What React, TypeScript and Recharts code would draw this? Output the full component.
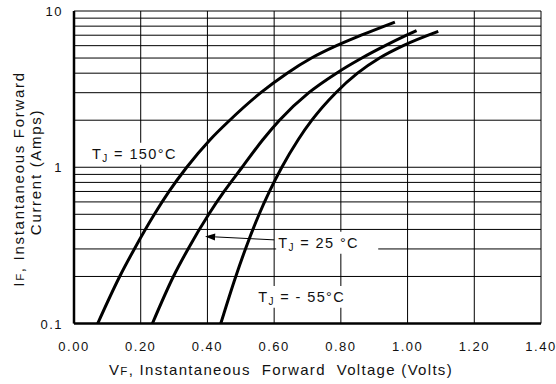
import { LineChart, Line, XAxis, YAxis, CartesianGrid, ReferenceArea, ReferenceLine } from "recharts";

// Forward voltage (V) vs instantaneous forward current (A)
const vf150 = [0.071, 0.137, 0.181, 0.241, 0.285, 0.338, 0.408, 0.467, 0.56, 0.639, 0.712, 0.787, 0.861, 0.962];
const if150 = [0.1, 0.2, 0.3, 0.5, 0.7, 1, 1.5, 2, 3, 4, 5, 6, 7, 8.5];

const vf25 = [0.235, 0.298, 0.342, 0.404, 0.45, 0.504, 0.566, 0.616, 0.704, 0.787, 0.863, 0.933, 0.997, 1.027];
const if25 = [0.1, 0.2, 0.3, 0.5, 0.7, 1, 1.5, 2, 3, 4, 5, 6, 7, 7.5];

const vfm55 = [0.44, 0.485, 0.514, 0.555, 0.586, 0.623, 0.672, 0.713, 0.785, 0.85, 0.916, 0.987, 1.092];
const ifm55 = [0.1, 0.2, 0.3, 0.5, 0.7, 1, 1.5, 2, 3, 4, 5, 6, 7.4];

const xTicks = [0, 0.2, 0.4, 0.6, 0.8, 1.0, 1.2, 1.4];
const yTicks = [0.1, 1, 10];
const yGrid = [0.1, 0.2, 0.3, 0.4, 0.5, 0.6, 0.7, 0.8, 0.9, 1, 2, 3, 4, 5, 6, 7, 8, 9, 10];

const zip = (v: number[], i: number[]) => v.map((x, k) => ({ v: x, i: i[k] }));
const pts150 = zip(vf150, if150);
const pts25 = zip(vf25, if25);
const ptsM55 = zip(vfm55, ifm55);

const FONT = "'Liberation Sans', Arial, sans-serif";

const XTick = ({ x, y, payload }: any) => (
  <text x={x} y={y + 25} textAnchor="middle" fontFamily={FONT} fontSize={13} letterSpacing={1.5} fill="#111">
    {payload.value.toFixed(2)}
  </text>
);

const YTick = ({ x, y, payload }: any) => (
  <text x={x - 9} y={y + 5} textAnchor="end" fontFamily={FONT} fontSize={13} letterSpacing={1.5} fill="#111">
    {String(payload.value)}
  </text>
);

const tjLabel = (rest: string, pad: number) => (props: any) => {
  const vb = props.viewBox;
  return (
    <text x={vb.x + pad} y={vb.y + vb.height / 2 + 5} fontFamily={FONT} fontSize={14.5} letterSpacing={1.4} fill="#111" style={{ whiteSpace: "pre" }}>
      T<tspan fontSize={10} dy={3}>J</tspan>
      <tspan dy={-3}>{rest}</tspan>
    </text>
  );
};

const arrowShape = (p: any) => {
  const { x1, y1, x2, y2 } = p;
  const a = Math.atan2(y2 - y1, x2 - x1);
  const len = 10;
  const w = 3.5;
  const bx = x2 - len * Math.cos(a);
  const by = y2 - len * Math.sin(a);
  const nx = -Math.sin(a) * w;
  const ny = Math.cos(a) * w;
  return (
    <g>
      <line x1={x1} y1={y1} x2={bx} y2={by} stroke="#000" strokeWidth={1} />
      <polygon points={`${x2},${y2} ${bx + nx},${by + ny} ${bx - nx},${by - ny}`} fill="#000" />
    </g>
  );
};

const yTitle = () => (
  <g fontFamily={FONT} fontSize={15} letterSpacing={1.7} fill="#111" style={{ whiteSpace: "pre" }}>
    <text transform="translate(24,179) rotate(-90)" textAnchor="middle">
      I<tspan fontSize={11.5}>F</tspan>, Instantaneous  Forward
    </text>
    <text transform="translate(41,172) rotate(-90)" textAnchor="middle">
      Current  (Amps)
    </text>
  </g>
);

const xTitle = () => (
  <text x={281} y={375} textAnchor="middle" fontFamily={FONT} fontSize={15} letterSpacing={1.3} fill="#111" style={{ whiteSpace: "pre" }}>
    V<tspan fontSize={11.5}>F</tspan>, Instantaneous  Forward  Voltage (Volts)
  </text>
);

export default function App() {
  return (
    <div style={{ position: "absolute", left: 0, top: 0, background: "#fff" }}>
      <LineChart width={556} height={384} margin={{ top: 11, right: 15, bottom: 0, left: 0 }}>
        <CartesianGrid
          horizontalValues={yGrid}
          verticalValues={xTicks}
          stroke="#000"
          strokeWidth={1}
          strokeOpacity={1}
        />
        <XAxis
          type="number"
          dataKey="v"
          domain={[0, 1.4]}
          ticks={xTicks}
          interval={0}
          allowDataOverflow
          height={60.5}
          tickLine={false}
          tickSize={0}
          axisLine={{ stroke: "#000", strokeWidth: 2.5 }}
          tick={<XTick />}
          label={{ content: xTitle }}
        />
        <YAxis
          type="number"
          scale="log"
          domain={[0.1, 10]}
          ticks={yTicks}
          interval={0}
          allowDataOverflow
          width={74}
          tickLine={false}
          tickSize={0}
          axisLine={{ stroke: "#000", strokeWidth: 2.5 }}
          tick={<YTick />}
          label={{ content: yTitle }}
        />
        <ReferenceArea x1={0.042} x2={0.318} y1={1.037} y2={1.436} fill="#fff" fillOpacity={1} stroke="none" label={tjLabel(" = 150°C", 4)} />
        <ReferenceArea x1={0.606} x2={0.912} y1={0.279} y2={0.386} fill="#fff" fillOpacity={1} stroke="none" label={tjLabel(" = 25 °C", 2)} />
        <ReferenceArea x1={0.54} x2={0.828} y1={0.126} y2={0.174} fill="#fff" fillOpacity={1} stroke="none" label={tjLabel(" = - 55°C", 4)} />
        <ReferenceLine
          segment={[{ x: 0.6, y: 0.343 }, { x: 0.393, y: 0.361 }]}
          shape={arrowShape}
          ifOverflow="visible"
        />
        <Line data={pts150} dataKey="i" type="monotone" stroke="#000" strokeWidth={3} dot={false} isAnimationActive={false} />
        <Line data={pts25} dataKey="i" type="monotone" stroke="#000" strokeWidth={3} dot={false} isAnimationActive={false} />
        <Line data={ptsM55} dataKey="i" type="monotone" stroke="#000" strokeWidth={3} dot={false} isAnimationActive={false} />
      </LineChart>
    </div>
  );
}
